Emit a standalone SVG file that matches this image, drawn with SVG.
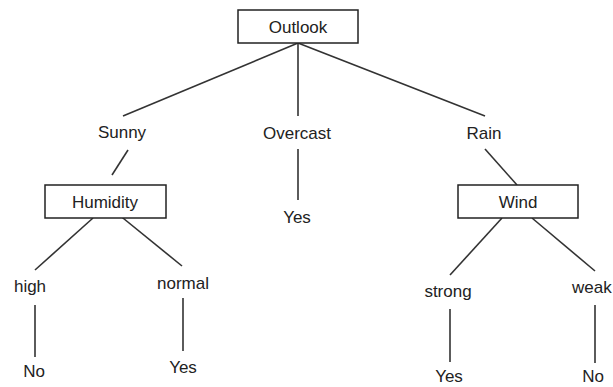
<svg xmlns="http://www.w3.org/2000/svg" width="613" height="387" viewBox="0 0 613 387">
<style>
text{font-family:"Liberation Sans",Arial,sans-serif;font-size:17px;fill:#222;text-anchor:middle}
rect{fill:#fff;stroke:#222;stroke-width:1.5}
#edges line{stroke:#333;stroke-width:1.6}
</style>
<rect x="0" y="0" width="613" height="387" style="stroke:none"/>
<g id="edges">
<line x1="298" y1="43" x2="123" y2="116"/>
<line x1="298" y1="43" x2="298" y2="116"/>
<line x1="298" y1="43" x2="485" y2="116"/>
<line x1="128" y1="150" x2="112" y2="175"/>
<line x1="298" y1="149" x2="298" y2="200"/>
<line x1="485" y1="149" x2="517" y2="185"/>
<line x1="93" y1="218" x2="35" y2="270"/>
<line x1="118" y1="214" x2="182" y2="266"/>
<line x1="502" y1="218" x2="450" y2="275"/>
<line x1="532" y1="218" x2="595" y2="271"/>
<line x1="35" y1="305" x2="35" y2="357"/>
<line x1="183" y1="298" x2="183" y2="351"/>
<line x1="450" y1="309" x2="450" y2="362"/>
<line x1="595" y1="305" x2="595" y2="363"/>
</g>
<g id="outlook"><rect x="238" y="10" width="120" height="33"/><text x="298" y="33">Outlook</text></g>
<g id="sunny"><text x="122" y="138">Sunny</text></g>
<g id="overcast"><text x="297" y="139">Overcast</text></g>
<g id="rain"><text x="484" y="139">Rain</text></g>
<g id="humidity"><rect x="45" y="185" width="121" height="33"/><text x="105" y="208">Humidity</text></g>
<g id="yes-overcast"><text x="297" y="223">Yes</text></g>
<g id="wind"><rect x="458" y="185" width="120" height="33"/><text x="518" y="208">Wind</text></g>
<g id="high"><text x="30" y="292">high</text></g>
<g id="normal"><text x="183" y="289">normal</text></g>
<g id="strong"><text x="448" y="297">strong</text></g>
<g id="weak"><text x="572" y="293" style="text-anchor:start">weak</text></g>
<g id="no-high"><text x="34" y="377">No</text></g>
<g id="yes-normal"><text x="183" y="373">Yes</text></g>
<g id="yes-strong"><text x="449" y="382">Yes</text></g>
<g id="no-weak"><text x="593" y="382">No</text></g>
</svg>
